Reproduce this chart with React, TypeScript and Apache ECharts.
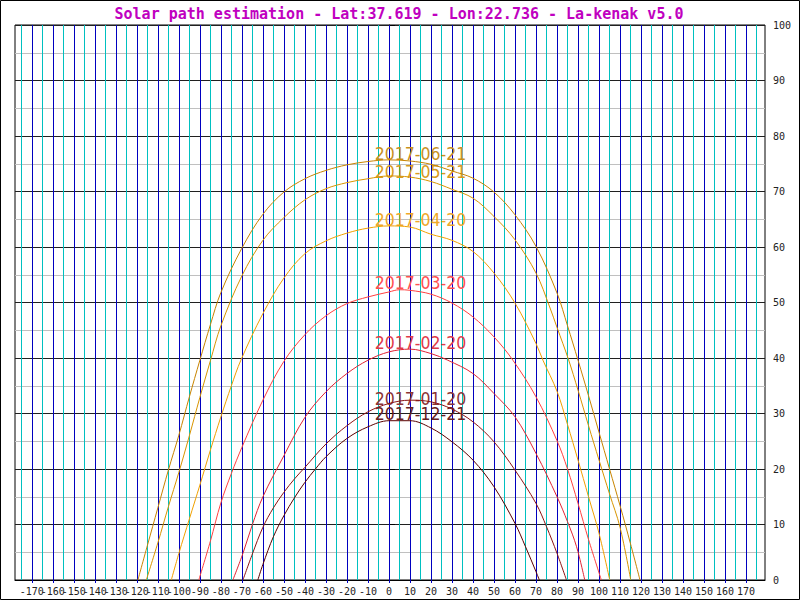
import React, { useEffect, useRef } from 'react';
import * as echarts from 'echarts';

const TITLE = 'Solar path estimation - Lat:37.619 - Lon:22.736 - La-kenak v5.0';

const dates = ['2017-06-21', '2017-05-21', '2017-04-20', '2017-03-20', '2017-02-20', '2017-01-20', '2017-12-21'];
const lineColors = ['#c88400', '#d89400', '#f0a000', '#ff4040', '#e02434', '#8c1414', '#5a0000'];
const labelColors = ['#c8901c', '#d89a20', '#f0a828', '#ff5050', '#e03a48', '#8c3434', '#6a2020'];

const az0621 = [-119.5, -115, -110, -105, -100, -95, -90, -85, -80, -70, -60, -50, -40, -30, -20, -10, 0, 10, 20, 30, 40, 50, 60, 70, 80, 85, 90, 95, 100, 105, 110, 115, 119.5];
const alt0621 = [0, 6.2, 13.0, 19.8, 26.1, 33.0, 39.6, 46.0, 51.8, 59.8, 65.9, 69.9, 72.3, 73.8, 74.8, 75.4, 75.7, 75.5, 74.9, 73.7, 72.4, 69.9, 65.8, 60.1, 51.7, 45.8, 39.6, 33.2, 26.6, 20.0, 13.4, 6.5, 0];

const az0521 = [-115.5, -110, -105, -100, -95, -90, -85, -80, -70, -60, -50, -40, -30, -20, -10, 0, 10, 20, 30, 40, 50, 60, 70, 76.5, 80, 85.4, 90, 95, 100, 105, 110, 115.1];
const alt0521 = [0, 6.7, 13.2, 19.4, 26.0, 32.9, 39.5, 45.8, 54.8, 61.2, 65.3, 68.5, 70.5, 71.6, 72.3, 72.8, 72.6, 71.8, 70.4, 68.8, 65.5, 61.3, 55.3, 49.2, 45.5, 39.8, 34.2, 27.8, 21.6, 15.5, 9.5, 0];

const az0420 = [-103.6, -100, -95, -90, -85, -80, -75, -70.5, -60, -50, -40, -30, -20, -10, 0, 10, 20, 30, 40, 50, 60, 70, 73.3, 80, 85, 90, 95, 100, 105.1];
const alt0420 = [0, 4.8, 11.0, 17.1, 23.4, 29.4, 35.0, 39.6, 48.0, 54.4, 58.8, 61.1, 62.5, 63.4, 63.8, 63.6, 62.3, 61.2, 59.2, 55.3, 49.9, 42.6, 39.6, 34.0, 28.0, 21.6, 15.0, 8.4, 0];

const az0320 = [-90.5, -85, -80, -75, -70, -60, -50, -40, -30, -20, -10, 0, 5, 10, 20, 30, 40, 50, 59, 70, 80, 85, 90, 95, 101.1];
const alt0320 = [0, 7.0, 13.9, 19.2, 23.9, 32.4, 39.4, 44.2, 47.6, 49.8, 51.0, 51.9, 52.3, 52.2, 51.5, 49.9, 47.4, 43.8, 39.6, 33.0, 25.1, 20.0, 13.8, 7.3, 0];

const az0220 = [-74.3, -69.5, -65, -60, -50, -40, -30, -20, -10, 0, 10, 20, 28, 40, 50, 60, 70, 80, 85, 89.3, 93.2];
const alt0220 = [0, 4.8, 10.0, 15.0, 22.4, 29.3, 33.9, 37.2, 39.6, 41.1, 41.6, 40.8, 39.6, 37.2, 33.6, 29.4, 22.8, 15.0, 10.5, 6.0, 0];

const az0120 = [-69.5, -65, -60, -55, -50, -45, -40, -30, -20, -10, 0, 10, 20, 30, 40, 50, 60, 70, 75, 80, 84.5];
const alt0120 = [0, 4.7, 9.5, 13.0, 15.8, 18.2, 20.3, 24.5, 27.8, 30.3, 31.8, 32.4, 32.1, 30.8, 28.5, 24.9, 19.8, 13.8, 9.6, 4.8, 0];

const az1221 = [-62.4, -60, -55, -50, -45, -40, -35, -30, -20, -10, 0, 10, 20, 30, 40, 50, 60, 65, 70, 71.6];
const alt1221 = [0, 2.8, 7.8, 11.6, 14.8, 17.6, 20.0, 22.2, 25.5, 27.6, 28.7, 28.7, 27.4, 24.9, 21.6, 16.8, 10.2, 6.0, 1.5, 0];

const curveAz = [az0621, az0521, az0420, az0320, az0220, az0120, az1221];
const curveAlt = [alt0621, alt0521, alt0420, alt0320, alt0220, alt0120, alt1221];

// label anchor: left edge azimuth and peak altitude (baseline)
const labelAz = -6.5;
const peakAlts = [75.7, 72.4, 63.8, 52.4, 41.6, 31.6, 28.8];

const xLabelValues = [-170, -160, -150, -140, -130, -120, -110, -100, -90, -80, -70, -60, -50, -40, -30, -20, -10, 0, 10, 20, 30, 40, 50, 60, 70, 80, 90, 100, 110, 120, 130, 140, 150, 160, 170];
const xHalfValues = [-175, -165, -155, -145, -135, -125, -115, -105, -95, -85, -75, -65, -55, -45, -35, -25, -15, -5, 5, 15, 25, 35, 45, 55, 65, 75, 85, 95, 105, 115, 125, 135, 145, 155, 165, 175];

const X_MIN = -178;
const X_MAX = 179;

export default function App() {
  const ref = useRef<HTMLDivElement>(null);
  useEffect(() => {
    if (!ref.current) return;
    const chart = echarts.init(ref.current, null, { renderer: 'svg' });

    // vertical grid positions (every 5 degrees), alternately cyan (x5) and blue (x10)
    const gridValues = [...xHalfValues, ...xLabelValues].sort((a, b) => a - b);

    // two interleaved label sets so that neighbouring (touching) labels are not auto-hidden
    const labelsA = xLabelValues.filter((_, i) => i % 2 === 0);
    const labelsB = xLabelValues.filter((_, i) => i % 2 === 1);
    const labelStyle = { color: '#222', fontFamily: "'DejaVu Sans Mono', monospace", fontSize: 10, margin: 6 };
    const makeX = (vals: number[], main: boolean) => ({
      type: 'value',
      min: X_MIN,
      max: X_MAX,
      position: 'bottom',
      z: 3,
      axisLine: { show: main, onZero: false, lineStyle: { color: '#000', width: 1 } },
      axisTick: { show: true, customValues: vals, length: 3, lineStyle: { color: '#0000c0' } },
      axisLabel: { show: true, customValues: vals, showMinLabel: true, showMaxLabel: true, ...labelStyle },
      splitLine: { show: false },
    });
    const gridX = {
      type: 'value',
      min: X_MIN,
      max: X_MAX,
      position: 'bottom',
      z: 1,
      axisLine: { show: false },
      axisTick: { show: false, customValues: gridValues },
      axisLabel: { show: false },
      splitLine: { show: true, showMinLine: true, showMaxLine: true, lineStyle: { color: ['#00c0c0', '#0000c0'], width: 1 } },
    };

    const curveSeries = dates.map((d, i) => ({
      type: 'line',
      name: d,
      xAxisIndex: 0,
      data: curveAz[i].map((a, j) => [a, curveAlt[i][j]]),
      showSymbol: false,
      smooth: 0.35,
      z: 5,
      lineStyle: { color: lineColors[i], width: 1 },
      itemStyle: { color: lineColors[i] },
      markPoint: {
        silent: true,
        symbol: 'circle',
        symbolSize: 1,
        itemStyle: { color: 'rgba(0,0,0,0)' },
        data: [
          {
            coord: [labelAz, peakAlts[i]],
            label: {
              show: true,
              formatter: d,
              position: [0, 3],
              align: 'left',
              verticalAlign: 'bottom',
              color: labelColors[i],
              fontFamily: "'DejaVu Sans Condensed', 'DejaVu Sans', sans-serif",
              fontSize: 17.5,
              lineHeight: 17,
            },
          },
        ],
      },
    }));

    chart.setOption({
      animation: false,
      backgroundColor: '#ffffff',
      grid: { left: 15, top: 25, width: 750, height: 555, show: true, borderColor: '#000', borderWidth: 1, backgroundColor: 'transparent' },
      graphic: [
        { type: 'rect', shape: { x: 0.5, y: 0.5, width: 799, height: 599 }, style: { fill: 'none', stroke: '#000', lineWidth: 1 }, z: 100, silent: true },
        {
          type: 'text',
          x: 399,
          y: 14,
          style: { text: TITLE, fill: '#c000c0', font: "bold 15px 'DejaVu Sans Mono', monospace", textAlign: 'center', textVerticalAlign: 'middle' },
          silent: true,
        },
      ],
      xAxis: [makeX(labelsA, true), makeX(labelsB, false), gridX],
      yAxis: {
        type: 'value',
        position: 'right',
        min: 0,
        max: 100,
        interval: 10,
        z: 0,
        axisLine: { show: true, lineStyle: { color: '#000', width: 1 } },
        axisTick: { show: true, length: 6, lineStyle: { color: '#000' } },
        axisLabel: { show: true, color: '#222', fontFamily: "'DejaVu Sans Mono', monospace", fontSize: 10, margin: 8 },
        splitLine: { show: true, lineStyle: { color: '#202020', width: 1 } },
        minorTick: { show: false, splitNumber: 2 },
        minorSplitLine: { show: true, lineStyle: { color: '#c0c0c0', width: 1 } },
      },
      series: curveSeries,
    });
    return () => chart.dispose();
  }, []);
  return <div ref={ref} style={{ position: 'absolute', left: 0, top: 0, width: 800, height: 600 }} />;
}
